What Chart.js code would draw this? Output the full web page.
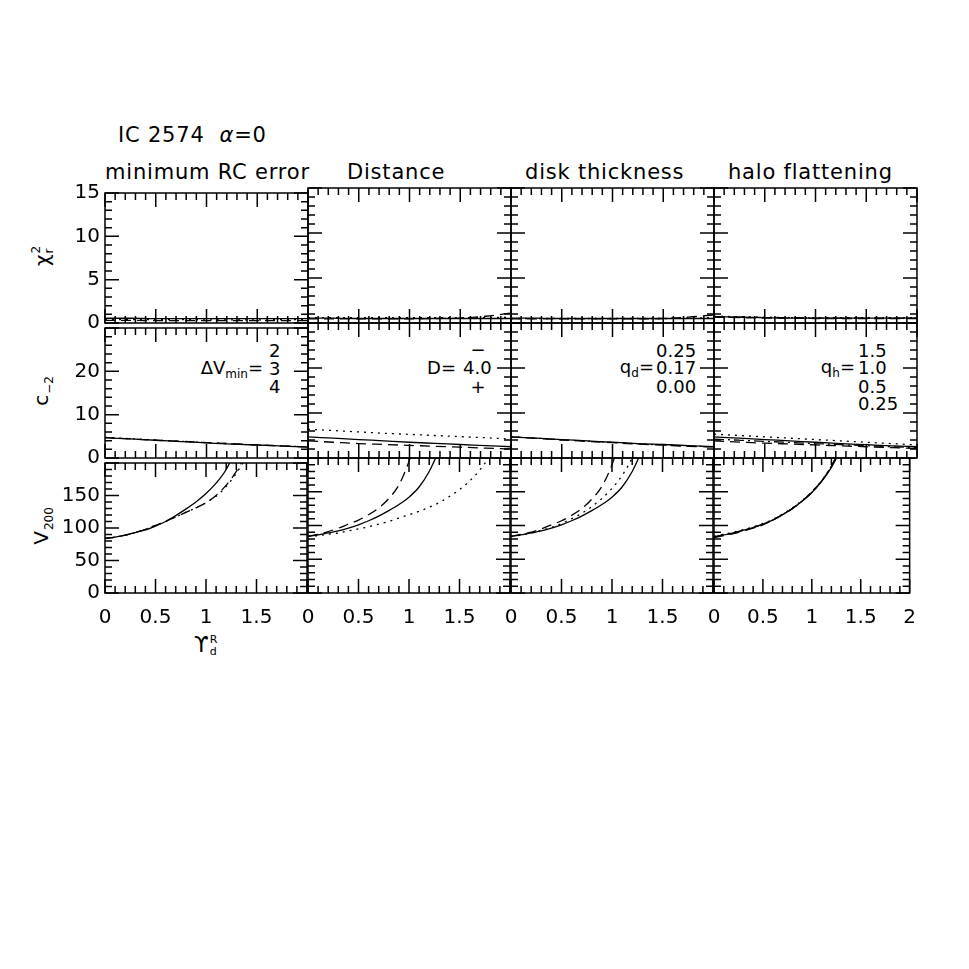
<!DOCTYPE html>
<html>
<head>
<meta charset="utf-8">
<script src="https://cdn.jsdelivr.net/npm/chart.js@4.4.1/dist/chart.umd.min.js"></script>
<style>
  body { margin: 0; background: #fff; }
  #fig { position: relative; width: 969px; height: 969px; overflow: hidden;
         font-family: "DejaVu Sans", sans-serif; color: #000; }
  #fig canvas { position: absolute; }
  .t { position: absolute; white-space: nowrap; line-height: 1; }
  .title { font-size: 21px; letter-spacing: 0.8px; }
  .leg { font-size: 18px; transform: translateY(-50%); }
  .legr { font-size: 18px; transform: translate(-100%, -50%); }
  .legc { font-size: 18px; transform: translate(-50%, -50%); }
  .legr sub { font-size: 12px; vertical-align: -4px; }
  .ylab { font-size: 20px; transform: translate(-50%, -50%) rotate(-90deg); }
  .ylab sub { font-size: 12px; vertical-align: -5px; margin-left: 1px; }
  .stack { display: inline-flex; flex-direction: column; font-size: 12px; line-height: 1.05;
           vertical-align: middle; margin-left: 1px; }
</style>
</head>
<body>
<div id="fig">
  <div class="t title" style="left:118px;top:125px;">IC 2574 &nbsp;<i>α</i>=0</div>
  <div class="t title" style="left:105px;top:162px;">minimum RC error</div>
  <div class="t title" style="left:347px;top:162px;">Distance</div>
  <div class="t title" style="left:525px;top:162px;">disk thickness</div>
  <div class="t title" style="left:728px;top:162px;">halo flattening</div>

  <div class="t ylab" style="left:43px;top:256px;">χ<span class="stack"><span>2</span><span>r</span></span></div>
  <div class="t ylab" style="left:43px;top:391px;">c<sub>−2</sub></div>
  <div class="t ylab" style="left:43px;top:526px;">V<sub>200</sub></div>
  <div class="t" style="left:194px;top:634px;font-size:21px;">ϒ<span class="stack" style="font-size:11px;"><span>R</span><span>d</span></span></div>

  <div class="t leg" style="left:269px;top:351px;">2</div>
  <div class="t legr" style="left:263px;top:369px;">ΔV<sub>min</sub>=</div>
  <div class="t leg" style="left:269px;top:369px;">3</div>
  <div class="t leg" style="left:269px;top:387px;">4</div>

  <div class="t legc" style="left:478px;top:350px;">−</div>
  <div class="t legr" style="left:456px;top:368px;">D=</div>
  <div class="t leg" style="left:463px;top:368px;">4.0</div>
  <div class="t legc" style="left:478px;top:387px;">+</div>

  <div class="t leg" style="left:656px;top:351px;">0.25</div>
  <div class="t legr" style="left:654px;top:368px;">q<sub>d</sub>=</div>
  <div class="t leg" style="left:656px;top:368px;">0.17</div>
  <div class="t leg" style="left:656px;top:387px;">0.00</div>

  <div class="t leg" style="left:858px;top:351px;">1.5</div>
  <div class="t legr" style="left:855px;top:368px;">q<sub>h</sub>=</div>
  <div class="t leg" style="left:858px;top:368px;">1.0</div>
  <div class="t leg" style="left:858px;top:387px;">0.5</div>
  <div class="t leg" style="left:858px;top:404px;">0.25</div>
</div>
<script>
// x grids (Upsilon_d^R)
const upsCoarse = [0, 0.25, 0.5, 0.75, 1, 1.25, 1.5, 1.75, 2];
const upsFine = [0, 0.1, 0.2, 0.3, 0.4, 0.5, 0.6, 0.7, 0.8, 0.9, 1.0,
                 1.1, 1.2, 1.3, 1.4, 1.5, 1.6, 1.7, 1.8, 1.9, 2.0];

// reduced chi^2 (on upsCoarse)
const chiDv3 = [0.55, 0.55, 0.5, 0.5, 0.5, 0.5, 0.5, 0.5, 0.5];
const chiDv2 = [0.3, 0.3, 0.28, 0.27, 0.27, 0.27, 0.27, 0.27, 0.28];
const chiDv4 = [0.4, 0.4, 0.38, 0.38, 0.37, 0.37, 0.37, 0.38, 0.4];
const chiD40 = [0.55, 0.55, 0.5, 0.5, 0.5, 0.5, 0.5, 0.5, 0.5];
const chiDminus = [0.45, 0.45, 0.45, 0.45, 0.45, 0.5, 0.55, 0.75, 1.1];
const chiDplus = [0.6, 0.6, 0.6, 0.6, 0.6, 0.6, 0.6, 0.6, 0.65];
const chiQd017 = [0.55, 0.55, 0.5, 0.5, 0.5, 0.5, 0.5, 0.5, 0.5];
const chiQd025 = [0.45, 0.45, 0.45, 0.45, 0.45, 0.45, 0.5, 0.65, 0.9];
const chiQd000 = [0.5, 0.5, 0.5, 0.5, 0.5, 0.5, 0.5, 0.55, 0.6];
const chiQh10 = [0.7, 0.65, 0.6, 0.55, 0.55, 0.55, 0.55, 0.55, 0.55];
const chiQh15 = [0.65, 0.6, 0.55, 0.55, 0.5, 0.5, 0.5, 0.5, 0.5];
const chiQh05 = [0.75, 0.7, 0.65, 0.6, 0.6, 0.6, 0.6, 0.6, 0.6];
const chiQh025 = [0.7, 0.65, 0.6, 0.6, 0.55, 0.55, 0.55, 0.55, 0.55];

// halo concentration c_-2 (on upsCoarse)
const cDv3 = [4.7, 4.4, 4.1, 3.8, 3.5, 3.2, 3.0, 2.75, 2.5];
const cDv2 = [4.7, 4.4, 4.1, 3.85, 3.55, 3.3, 3.0, 2.8, 2.55];
const cDv4 = [4.75, 4.45, 4.15, 3.85, 3.55, 3.25, 3.0, 2.8, 2.55];
const cD40 = [4.7, 4.4, 4.1, 3.8, 3.5, 3.25, 3.0, 2.75, 2.5];
const cDminus = [3.8, 3.5, 3.2, 3.0, 2.8, 2.6, 2.4, 2.2, 2.0];
const cDplus = [6.4, 6.1, 5.8, 5.5, 5.25, 5.0, 4.75, 4.5, 4.2];
const cQd017 = [4.7, 4.4, 4.1, 3.8, 3.5, 3.2, 3.0, 2.75, 2.5];
const cQd025 = [4.7, 4.35, 4.0, 3.7, 3.4, 3.1, 2.85, 2.6, 2.45];
const cQd000 = [4.7, 4.4, 4.05, 3.75, 3.45, 3.15, 2.9, 2.65, 2.5];
const cQh10 = [4.7, 4.4, 4.1, 3.8, 3.5, 3.2, 2.95, 2.7, 2.5];
const cQh15 = [3.8, 3.55, 3.3, 3.1, 2.9, 2.7, 2.5, 2.3, 2.1];
const cQh05 = [5.3, 5.0, 4.7, 4.4, 4.1, 3.8, 3.5, 3.2, 2.9];
const cQh025 = [4.2, 3.95, 3.7, 3.45, 3.2, 2.95, 2.75, 2.5, 2.3];

// V200 (on upsFine, until the curve leaves the panel)
const vDv3 = [84, 86, 89, 93, 97, 103, 110, 119, 129, 140, 153, 169, 190, 222];
const vDv2 = [84, 86, 89, 93, 98, 104, 110, 117, 124, 131, 139, 150, 166, 187, 215];
const vDv4 = [84, 86, 89, 93, 98, 104, 110, 117, 124, 131, 139, 149, 164, 184, 209];
const vD40 = [84, 86, 89, 92, 96, 101, 107, 114, 122, 131, 142, 157, 180, 212];
const vDminus = [84, 87, 91, 96, 102, 108, 116, 126, 140, 160, 195, 240];
const vDplus = [84, 85, 87, 89, 92, 95, 98, 102, 106, 111, 116, 121, 127, 134, 143, 153, 166, 182, 203, 230];
const vQd017 = [84, 86, 89, 92, 96, 101, 107, 114, 122, 131, 142, 157, 180, 212];
const vQd025 = [84, 87, 90, 95, 101, 107, 115, 125, 139, 158, 190, 235];
const vQd000 = [84, 86, 89, 93, 97, 103, 110, 118, 128, 140, 155, 174, 200, 235];
const vQh10 = [83, 86, 89, 93, 97, 102, 108, 116, 125, 136, 149, 165, 186, 214];
const vQh15 = [82, 85, 88, 92, 96, 101, 108, 116, 125, 136, 150, 166, 188, 216];
const vQh05 = [84, 87, 90, 94, 98, 103, 109, 117, 126, 137, 150, 166, 187, 215];
const vQh025 = [83, 86, 89, 93, 97, 102, 108, 116, 125, 136, 149, 166, 188, 217];

// y axes per row: max, major step, minor step
const rowMax = [15, 30, 200];
const rowMajor = [5, 10, 50];
const rowMinor = [1, 2, 10];

const DASH = { solid: [], dashed: [10, 6], dotted: [2, 5], dashdot: [10, 4, 2, 4] };

// layout of the panel grid
const X0 = 105, Y0 = 188, PW = 203, PH = 135;
const AXW = 48, AXH = 32, PAD = 12;
const FONT = '"DejaVu Sans", sans-serif';

// inward PGPLOT-style ticks on all four sides plus the frame
const frameTicks = {
  id: 'frameTicks',
  afterDatasetsDraw(chart, args, opts) {
    const { ctx, chartArea: a, scales: { x, y } } = chart;
    ctx.save();
    ctx.strokeStyle = '#000';
    ctx.lineWidth = 1.5;
    ctx.strokeRect(a.left, a.top, a.right - a.left, a.bottom - a.top);
    ctx.beginPath();
    for (let i = 0; i <= 20; i++) {
      const px = x.getPixelForValue(i * 0.1);
      const len = i % 5 === 0 ? 14 : 7;
      ctx.moveTo(px, a.bottom); ctx.lineTo(px, a.bottom - len);
      ctx.moveTo(px, a.top); ctx.lineTo(px, a.top + len);
    }
    const n = Math.round(y.max / opts.minor);
    const per = Math.round(opts.major / opts.minor);
    for (let i = 0; i <= n; i++) {
      const py = y.getPixelForValue(i * opts.minor);
      const len = i % per === 0 ? 14 : 7;
      ctx.moveTo(a.left, py); ctx.lineTo(a.left + len, py);
      ctx.moveTo(a.right, py); ctx.lineTo(a.right - len, py);
    }
    ctx.stroke();
    ctx.restore();
  }
};

function series(xs, ys, style) {
  return {
    data: ys.map((v, i) => ({ x: xs[i], y: v })),
    borderColor: '#000',
    borderWidth: 1.3,
    borderDash: DASH[style],
    pointRadius: 0,
    fill: false,
    cubicInterpolationMode: 'monotone'
  };
}

const panels = [
  [0, 0, [series(upsCoarse, chiDv3, 'solid'), series(upsCoarse, chiDv2, 'dashed'), series(upsCoarse, chiDv4, 'dotted')]],
  [0, 1, [series(upsCoarse, chiD40, 'solid'), series(upsCoarse, chiDminus, 'dashed'), series(upsCoarse, chiDplus, 'dotted')]],
  [0, 2, [series(upsCoarse, chiQd017, 'solid'), series(upsCoarse, chiQd025, 'dashed'), series(upsCoarse, chiQd000, 'dotted')]],
  [0, 3, [series(upsCoarse, chiQh10, 'solid'), series(upsCoarse, chiQh15, 'dashed'), series(upsCoarse, chiQh05, 'dotted'), series(upsCoarse, chiQh025, 'dashdot')]],
  [1, 0, [series(upsCoarse, cDv3, 'solid'), series(upsCoarse, cDv2, 'dashed'), series(upsCoarse, cDv4, 'dotted')]],
  [1, 1, [series(upsCoarse, cD40, 'solid'), series(upsCoarse, cDminus, 'dashed'), series(upsCoarse, cDplus, 'dotted')]],
  [1, 2, [series(upsCoarse, cQd017, 'solid'), series(upsCoarse, cQd025, 'dashed'), series(upsCoarse, cQd000, 'dotted')]],
  [1, 3, [series(upsCoarse, cQh10, 'solid'), series(upsCoarse, cQh15, 'dashed'), series(upsCoarse, cQh05, 'dotted'), series(upsCoarse, cQh025, 'dashdot')]],
  [2, 0, [series(upsFine, vDv3, 'solid'), series(upsFine, vDv2, 'dashed'), series(upsFine, vDv4, 'dotted')]],
  [2, 1, [series(upsFine, vD40, 'solid'), series(upsFine, vDminus, 'dashed'), series(upsFine, vDplus, 'dotted')]],
  [2, 2, [series(upsFine, vQd017, 'solid'), series(upsFine, vQd025, 'dashed'), series(upsFine, vQd000, 'dotted')]],
  [2, 3, [series(upsFine, vQh10, 'solid'), series(upsFine, vQh15, 'dashed'), series(upsFine, vQh05, 'dotted'), series(upsFine, vQh025, 'dashdot')]]
];

const fig = document.getElementById('fig');

panels.forEach(([row, col, datasets]) => {
  const canvas = document.createElement('canvas');
  canvas.width = PAD + AXW + PW + PAD;
  canvas.height = PAD + PH + AXH + PAD;
  canvas.style.left = (X0 + col * PW - AXW - PAD) + 'px';
  canvas.style.top = (Y0 + row * PH - PAD) + 'px';
  fig.appendChild(canvas);

  const yMax = rowMax[row];
  new Chart(canvas, {
    type: 'line',
    data: { datasets },
    plugins: [frameTicks],
    options: {
      responsive: false,
      animation: false,
      devicePixelRatio: 1,
      layout: { padding: PAD },
      plugins: {
        legend: { display: false },
        tooltip: { enabled: false },
        frameTicks: { major: rowMajor[row], minor: rowMinor[row] }
      },
      scales: {
        x: {
          type: 'linear', min: 0, max: 2,
          grid: { display: false, drawTicks: false },
          border: { display: false },
          ticks: {
            display: row === 2, stepSize: 0.5, autoSkip: false, maxRotation: 0,
            padding: 13, color: '#000', font: { family: FONT, size: 20 },
            callback: v => (v === 2 && col < 3) ? '' : String(v)
          },
          afterFit: s => { s.height = AXH; }
        },
        y: {
          type: 'linear', min: 0, max: yMax,
          grid: { display: false, drawTicks: false },
          border: { display: false },
          ticks: {
            display: col === 0, stepSize: rowMajor[row], autoSkip: false,
            padding: 5, color: '#000', font: { family: FONT, size: 20 },
            callback: v => (v === yMax && row > 0) ? '' : String(v)
          },
          afterFit: s => { s.width = AXW; }
        }
      }
    }
  });
});
</script>
</body>
</html>
